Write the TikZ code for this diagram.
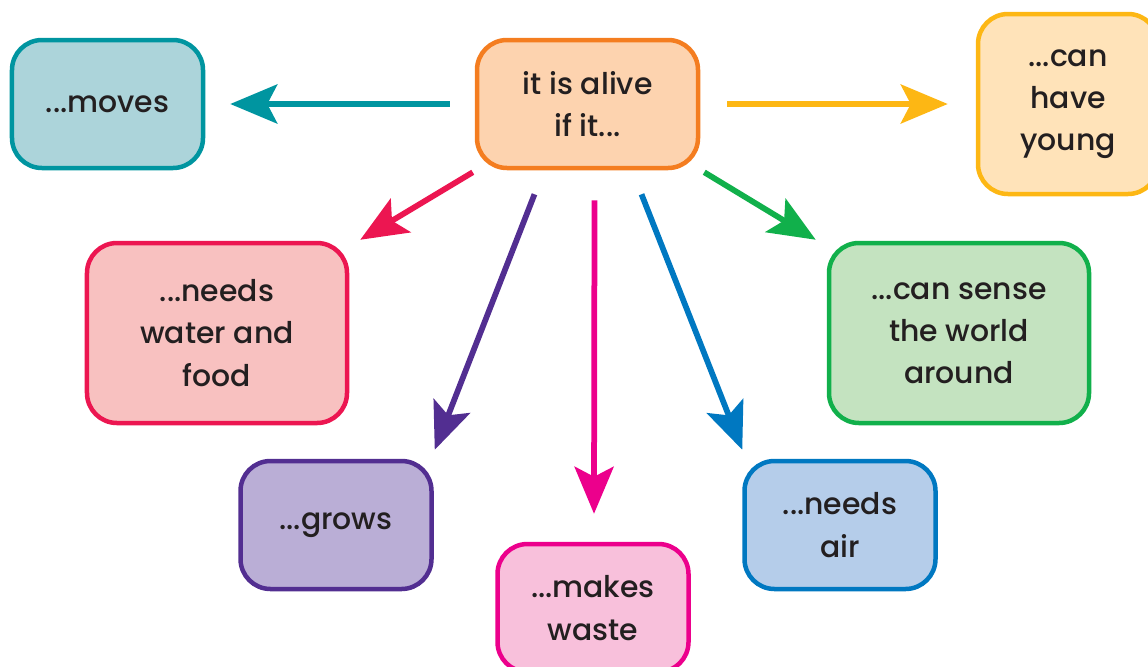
\documentclass[tikz,border=0pt]{standalone}
\usepackage{fontspec}
\setmainfont{Poppins}[UprightFont=* Medium]
\usepackage{xcolor}
\usepackage{tikz}
\usetikzlibrary{positioning, calc, arrows.meta}
\definecolor{lvText}{HTML}{231F20}
\definecolor{lvTeal}{HTML}{0095A0}
\definecolor{lvTealFill}{HTML}{ACD4DA}
\definecolor{lvOrange}{HTML}{F47D20}
\definecolor{lvOrangeFill}{HTML}{FDD3AF}
\definecolor{lvYellow}{HTML}{FDB714}
\definecolor{lvYellowFill}{HTML}{FFE3B9}
\definecolor{lvRed}{HTML}{EC1651}
\definecolor{lvRedFill}{HTML}{F8C1C0}
\definecolor{lvGreen}{HTML}{11B04B}
\definecolor{lvGreenFill}{HTML}{C4E3C0}
\definecolor{lvPurple}{HTML}{522E91}
\definecolor{lvPurpleFill}{HTML}{BAAED6}
\definecolor{lvMagenta}{HTML}{EC008C}
\definecolor{lvMagentaFill}{HTML}{F8C0DB}
\definecolor{lvBlue}{HTML}{0078C1}
\definecolor{lvBlueFill}{HTML}{B5CDEA}
\tikzset{
    base/.style={
        font=\fontsize{17}{24}\selectfont,
        text=lvText,
        align=center
    },
    idea/.style 2 args={
        base,
        rectangle,
        rounded corners=6mm,
        draw=#1,
        fill=#2,
        line width=0.9mm,
        inner sep=0pt,
        minimum width=38.2mm,
        minimum height=25.6mm
    },
    bigidea/.style 2 args={
        idea={#1}{#2},
        minimum width=52mm,
        minimum height=36mm
    },
    flow/.style={
        draw=#1,
        line width=1.15mm,
        -{Stealth[length=9.4mm, width=7.8mm, inset=2mm]}
    }
}
\begin{document}
\begin{tikzpicture}[x=0.2mm, y=-0.2mm]
  \useasboundingbox (0,0) rectangle (1148,666);

  % centre
  \node[idea={lvOrange}{lvOrangeFill}, minimum width=44.2mm] (hub) at (587.5,104) {it is alive\\if it...};

  % top row
  \node[idea={lvTeal}{lvTealFill}] (moves) at (107.5,104) {...moves};
  \node[idea={lvYellow}{lvYellowFill}, minimum width=36mm, minimum height=36mm] (young) at (1068,104) {...can\\have\\young};

  % middle row
  \node[bigidea={lvRed}{lvRedFill}] (water) at (217,333) {...needs\\water and\\food};
  \node[bigidea={lvGreen}{lvGreenFill}] (sense) at (959,333) {...can sense\\the world\\around};

  % bottom row
  \node[idea={lvPurple}{lvPurpleFill}] (grows) at (336,525) {...grows};
  \node[idea={lvMagenta}{lvMagentaFill}] (waste) at (593,608) {...makes\\waste};
  \node[idea={lvBlue}{lvBlueFill}] (air) at (840,525) {...needs\\air};

  % arrows from the centre
  \draw[flow=lvTeal] ($(hub.west)+(-25,0)$) -- ($(moves.east)+(25,0)$);
  \draw[flow=lvYellow] ($(hub.east)+(27,0)$) -- ($(young.west)+(-28,0)$);
  \draw[flow=lvRed] ($(hub.south west)+(-2,2)$) -- ($(water.north east)+(11,-1)$);
  \draw[flow=lvGreen] ($(hub.south east)+(4,2)$) -- ($(sense.north west)+(-11,-1)$);
  \draw[flow=lvPurple] ($(hub.south)+(-53,24)$) -- ($(grows.north east)+(1,-9)$);
  \draw[flow=lvMagenta] ($(hub.south)+(7,30)$) -- ($(waste.north)+(1,-28)$);
  \draw[flow=lvBlue] ($(hub.south)+(54,24)$) -- ($(air.north west)+(0,-9)$);

\end{tikzpicture}
\end{document}
